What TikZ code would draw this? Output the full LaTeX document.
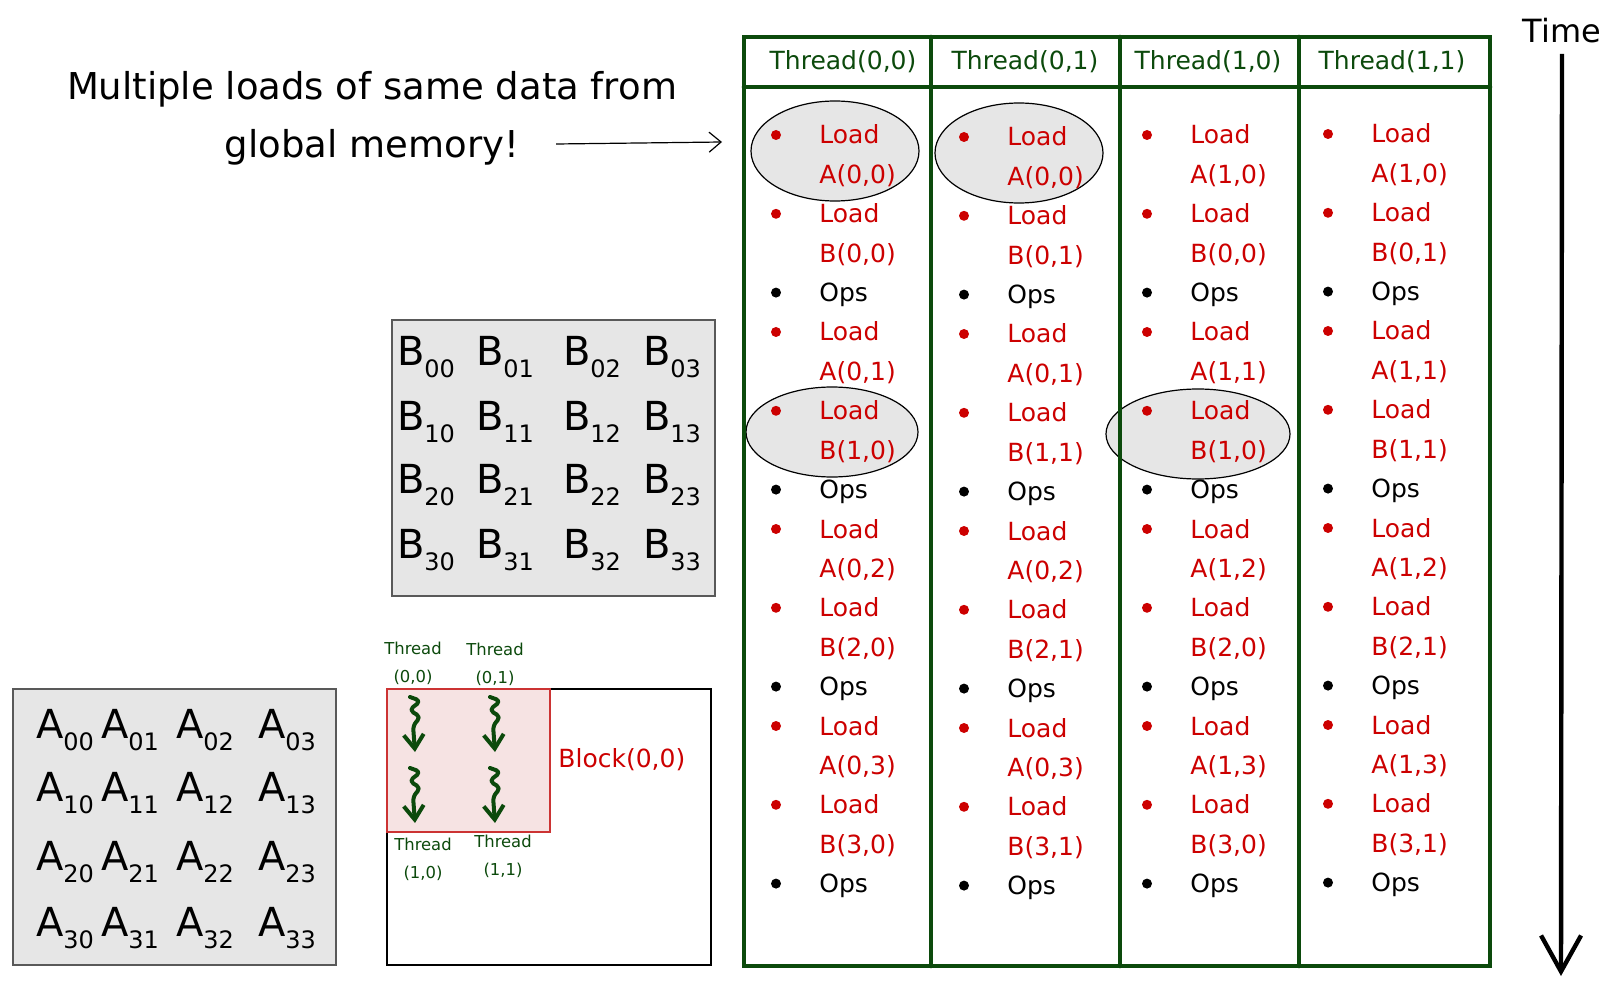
\documentclass[tikz,border=0pt]{standalone}
\usepackage{fontspec}
\setmainfont{DejaVu Sans}
\usetikzlibrary{arrows.meta,calc}
\definecolor{threadgreen}{RGB}{12,74,12}
\definecolor{loadred}{RGB}{204,0,0}
\definecolor{matgray}{RGB}{230,230,230}
\definecolor{blockpink}{RGB}{246,227,227}
\definecolor{blockred}{RGB}{204,51,51}
\newcommand{\mentry}[2]{#1\raisebox{-0.55ex}{\fontsize{12}{12}\selectfont #2}}
\tikzset{
    grid line/.style={threadgreen, line width=2.3pt, line cap=round},
    head text/.style={threadgreen, font=\fontsize{12.5}{14}\selectfont, inner sep=0pt},
    cell text/.style={anchor=base west, font=\fontsize{12.5}{14}\selectfont, inner sep=0pt},
    load text/.style={cell text, loadred},
    ops text/.style={cell text, black},
    load dot/.style={circle, fill=loadred, inner sep=0pt, minimum size=5pt},
    ops dot/.style={circle, fill=black, inner sep=0pt, minimum size=5pt},
    reload mark/.style={draw=black, line width=0.6pt, fill=matgray},
    matrix box/.style={draw=black!65, line width=0.8pt, fill=matgray},
    mat entry/.style={font=\fontsize{20}{20}\selectfont, inner sep=0pt},
    big text/.style={font=\fontsize{18.5}{20}\selectfont},
    small thread/.style={threadgreen, align=center, font=\fontsize{8.2}{14}\selectfont, inner sep=0pt},
    note arrow/.style={line width=0.6pt, -{Straight Barb[length=6pt,width=10pt]}},
    time arrow/.style={line width=2.2pt, -{Straight Barb[length=18pt,width=20pt]}},
    warp arrow/.style={threadgreen, line width=2pt, line cap=round, line join=round,
        -{Straight Barb[length=7pt,width=10pt]}},
    squig/.pic={
        \draw[warp arrow, rounded corners=2.5pt] (-5,0) -- (6,4) -- (-6,13) -- (6,20) -- (-2,28) -- (0,55);
    }
}

\begin{document}
\begin{tikzpicture}[x=0.5pt, y=-0.5pt]
\path[fill=white, use as bounding box] (0,0) rectangle (1618,1000);

% note on the left
\node[big text] (memA) at (372,89) {Multiple loads of same data from};
\node[big text] (memB) at (372,147) {global memory!};
\coordinate (hit) at (722,142);
\draw[note arrow] ([xshift=15pt,yshift=1.5pt]memB.east) -- (hit);

% matrices
\draw[matrix box] (392,320) rectangle (715,596);
\foreach \i/\yy in {0/357,1/422,2/485,3/550}
  \foreach \j/\xx in {0/426,1/505,2/592,3/672}
    \node[mat entry] (b\i\j) at (\xx,\yy) {\mentry{B}{\i\j}};
\draw[matrix box] (13,689) rectangle (336,965);
\foreach \i/\yy in {0/730,1/793,2/862,3/928}
  \foreach \j/\xx in {0/65,1/130,2/205,3/287}
    \node[mat entry] (a\i\j) at (\xx,\yy) {\mentry{A}{\i\j}};

% grid and block
\draw[black, line width=0.6pt] (387,689) rectangle (711,965);
\draw[draw=blockred, fill=blockpink, line width=0.8pt] (387,689) rectangle (550,832);
\node[anchor=west, inner sep=0pt, loadred, font=\fontsize{12.5}{14}\selectfont] (blk) at (558,760) {Block(0,0)};
\node[small thread] (t00) at (413,663) {Thread\\(0,0)};
\node[small thread] (t01) at (495,664) {Thread\\(0,1)};
\node[small thread] (t10) at (423,859) {Thread\\(1,0)};
\node[small thread] (t11) at (503,856) {Thread\\(1,1)};
\foreach \xx in {415,495}
  \foreach \yy in {697,768}
    \pic at (\xx,\yy) {squig};

% repeated loads
\draw[reload mark] (835,151) ellipse [x radius=84, y radius=50];
\draw[reload mark] (1019,153) ellipse [x radius=84, y radius=50];
\draw[reload mark] (832,432) ellipse [x radius=86, y radius=45];
\draw[reload mark] (1198,434) ellipse [x radius=92, y radius=45];

% timeline table
\draw[grid line] (744,37) rectangle (1490,966);
\draw[grid line] (744,87) -- (1490,87);
\foreach \xx in {931,1120,1299}
  \draw[grid line] (\xx,37) -- (\xx,966);
\foreach \col/\tr/\tc/\hx in {1/0/0/843, 2/0/1/1025, 3/1/0/1208, 4/1/1/1392}
  \node[head text] (h\col) at (\hx,62) {Thread(\tr,\tc)};

\foreach \col/\tr/\tc/\bx/\tx/\dy in {1/0/0/776/819/0, 2/0/1/964/1007/2, 3/1/0/1147/1190/0, 4/1/1/1328/1371/-1}{
  \foreach \k in {0,...,3}{
    \pgfmathsetmacro{\ya}{135+\dy+5*\k*39.4}
    \node[load dot] (da\col\k) at (\bx,\ya) {};
    \node[load text] (la\col\k) at (\tx,{\ya+9}) {Load};
    \node[load text] (ma\col\k) at (\tx,{\ya+9+39.4}) {A(\tr,\k)};
    \node[load dot] (db\col\k) at (\bx,{\ya+78.8}) {};
    \node[load text] (lb\col\k) at (\tx,{\ya+9+78.8}) {Load};
    \node[load text] (mb\col\k) at (\tx,{\ya+9+118.2}) {B(\k,\tc)};
    \node[ops dot] (do\col\k) at (\bx,{\ya+157.6}) {};
    \node[ops text] (op\col\k) at (\tx,{\ya+9+157.6}) {Ops};
  }
}

% time axis
\node[anchor=base, inner sep=0pt, font=\fontsize{16}{18}\selectfont] (time) at (1562,43) {Time};
\coordinate (tend) at (1561,976);
\draw[time arrow] ([yshift=-5.5pt]time.base) -- (tend);
\end{tikzpicture}
\end{document}
